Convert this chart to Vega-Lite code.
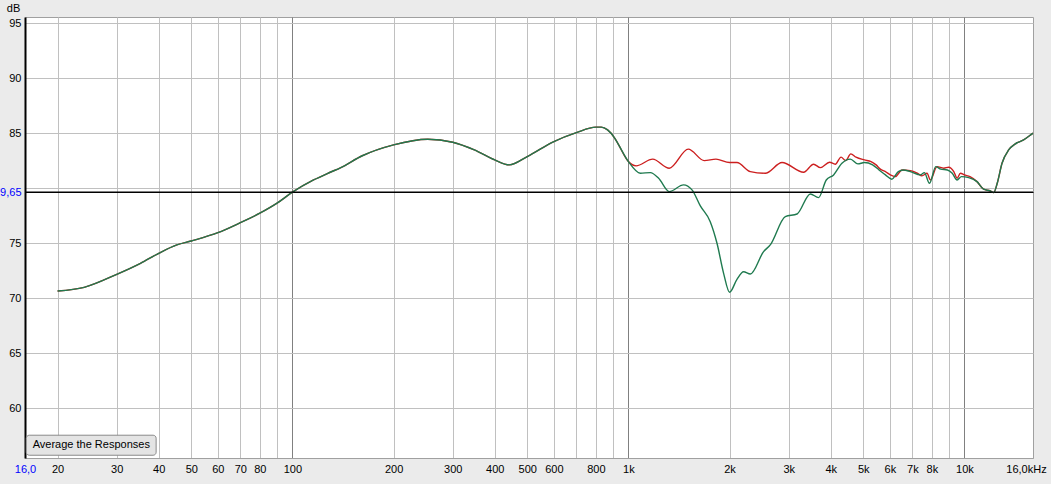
{
  "$schema": "https://vega.github.io/schema/vega-lite/v6.json",
  "width": 1008,
  "height": 441,
  "autosize": {"type": "none"},
  "padding": {"left": 25, "top": 17, "right": 18, "bottom": 26},
  "background": "#ebebeb",
  "config": {
    "view": {"fill": "white", "stroke": "#a0a0a0", "strokeWidth": 1},
    "font": "Liberation Sans",
    "axis": {"labelFont": "Liberation Sans", "labelFontSize": 11, "labelColor": "black"}
  },
  "data": {
    "values": [
      {"f": 20, "db": 70.66, "s": "B"}, {"f": 24, "db": 71.0, "s": "B"}, {"f": 30, "db": 72.18, "s": "B"},
      {"f": 35.3, "db": 73.18, "s": "B"}, {"f": 40, "db": 74.09, "s": "B"}, {"f": 45.3, "db": 74.85, "s": "B"},
      {"f": 50, "db": 75.21, "s": "B"}, {"f": 60, "db": 75.96, "s": "B"}, {"f": 70, "db": 76.87, "s": "B"},
      {"f": 80, "db": 77.73, "s": "B"}, {"f": 90, "db": 78.64, "s": "B"}, {"f": 100, "db": 79.64, "s": "B"},
      {"f": 115.6, "db": 80.75, "s": "B"}, {"f": 129.6, "db": 81.45, "s": "B"}, {"f": 138.9, "db": 81.85, "s": "B"},
      {"f": 161.4, "db": 82.95, "s": "B"}, {"f": 200, "db": 83.94, "s": "B"}, {"f": 252.8, "db": 84.45, "s": "B"},
      {"f": 300, "db": 84.18, "s": "B"}, {"f": 347.9, "db": 83.48, "s": "B"}, {"f": 400, "db": 82.57, "s": "B"},
      {"f": 442, "db": 82.12, "s": "B"}, {"f": 500, "db": 82.87, "s": "B"}, {"f": 600, "db": 84.24, "s": "B"},
      {"f": 700, "db": 85.05, "s": "B"}, {"f": 800, "db": 85.55, "s": "B"}, {"f": 830, "db": 85.55, "s": "B"},
      {"f": 867, "db": 85.3, "s": "B"}, {"f": 908, "db": 84.6, "s": "B"}, {"f": 929, "db": 84.1, "s": "B"},
      {"f": 1000, "db": 82.42, "s": "B"},
      {"f": 1054, "db": 82.03, "s": "R"}, {"f": 1181, "db": 82.64, "s": "R"}, {"f": 1323, "db": 81.82, "s": "R"},
      {"f": 1507, "db": 83.55, "s": "R"}, {"f": 1682, "db": 82.51, "s": "R"}, {"f": 1822, "db": 82.64, "s": "R"},
      {"f": 2000, "db": 82.33, "s": "R"}, {"f": 2104, "db": 82.33, "s": "R"}, {"f": 2306, "db": 81.51, "s": "R"},
      {"f": 2555, "db": 81.36, "s": "R"}, {"f": 2866, "db": 82.33, "s": "R"}, {"f": 3322, "db": 81.45, "s": "R"},
      {"f": 3557, "db": 82.18, "s": "R"}, {"f": 3725, "db": 81.87, "s": "R"}, {"f": 3968, "db": 82.36, "s": "R"},
      {"f": 4128, "db": 82.18, "s": "R"}, {"f": 4293, "db": 82.82, "s": "R"}, {"f": 4432, "db": 82.51, "s": "R"},
      {"f": 4590, "db": 83.12, "s": "R"}, {"f": 4757, "db": 82.82, "s": "R"}, {"f": 5037, "db": 82.57, "s": "R"},
      {"f": 5273, "db": 82.42, "s": "R"}, {"f": 5459, "db": 82.12, "s": "R"}, {"f": 5620, "db": 81.73, "s": "R"},
      {"f": 5821, "db": 81.51, "s": "R"}, {"f": 6016, "db": 81.21, "s": "R"}, {"f": 6227, "db": 81.05, "s": "R"},
      {"f": 6520, "db": 81.66, "s": "R"}, {"f": 6901, "db": 81.6, "s": "R"}, {"f": 7240, "db": 81.36, "s": "R"},
      {"f": 7476, "db": 81.12, "s": "R"}, {"f": 7741, "db": 81.36, "s": "R"}, {"f": 7920, "db": 80.75, "s": "R"},
      {"f": 8288, "db": 81.96, "s": "R"}, {"f": 8680, "db": 81.82, "s": "R"}, {"f": 8980, "db": 81.91, "s": "R"},
      {"f": 9298, "db": 81.51, "s": "R"}, {"f": 9510, "db": 80.91, "s": "R"}, {"f": 9730, "db": 81.36, "s": "R"},
      {"f": 10000, "db": 81.21, "s": "R"}, {"f": 10390, "db": 81.05, "s": "R"},
      {"f": 1085, "db": 81.36, "s": "G"}, {"f": 1162, "db": 81.42, "s": "G"}, {"f": 1230, "db": 80.91, "s": "G"},
      {"f": 1323, "db": 79.69, "s": "G"}, {"f": 1459, "db": 80.3, "s": "G"}, {"f": 1546, "db": 79.85, "s": "G"},
      {"f": 1637, "db": 78.39, "s": "G"}, {"f": 1752, "db": 76.96, "s": "G"}, {"f": 1835, "db": 75.0, "s": "G"},
      {"f": 1920, "db": 72.27, "s": "G"}, {"f": 2000, "db": 70.55, "s": "G"}, {"f": 2104, "db": 71.73, "s": "G"},
      {"f": 2201, "db": 72.42, "s": "G"}, {"f": 2306, "db": 72.21, "s": "G"}, {"f": 2525, "db": 74.24, "s": "G"},
      {"f": 2643, "db": 74.85, "s": "G"}, {"f": 2931, "db": 77.42, "s": "G"}, {"f": 3176, "db": 77.66, "s": "G"},
      {"f": 3479, "db": 79.48, "s": "G"}, {"f": 3681, "db": 79.15, "s": "G"}, {"f": 3880, "db": 80.75, "s": "G"},
      {"f": 4080, "db": 81.21, "s": "G"}, {"f": 4320, "db": 82.27, "s": "G"}, {"f": 4575, "db": 82.64, "s": "G"},
      {"f": 4820, "db": 82.21, "s": "G"}, {"f": 5037, "db": 82.33, "s": "G"}, {"f": 5330, "db": 82.12, "s": "G"},
      {"f": 5570, "db": 81.66, "s": "G"}, {"f": 5821, "db": 81.21, "s": "G"}, {"f": 6080, "db": 80.82, "s": "G"},
      {"f": 6360, "db": 81.51, "s": "G"}, {"f": 6580, "db": 81.66, "s": "G"}, {"f": 6901, "db": 81.51, "s": "G"},
      {"f": 7400, "db": 81.21, "s": "G"}, {"f": 7600, "db": 81.42, "s": "G"}, {"f": 7870, "db": 80.45, "s": "G"},
      {"f": 8220, "db": 81.96, "s": "G"}, {"f": 8500, "db": 81.73, "s": "G"}, {"f": 8900, "db": 81.66, "s": "G"},
      {"f": 9200, "db": 81.36, "s": "G"}, {"f": 9510, "db": 80.75, "s": "G"}, {"f": 9800, "db": 81.05, "s": "G"},
      {"f": 10300, "db": 80.96, "s": "G"},
      {"f": 10900, "db": 80.6, "s": "B"}, {"f": 11400, "db": 79.91, "s": "B"}, {"f": 11940, "db": 79.75, "s": "B"},
      {"f": 12220, "db": 79.6, "s": "B"}, {"f": 12520, "db": 80.45, "s": "B"}, {"f": 12940, "db": 82.27, "s": "B"},
      {"f": 13540, "db": 83.48, "s": "B"}, {"f": 14180, "db": 84.03, "s": "B"}, {"f": 15000, "db": 84.39, "s": "B"},
      {"f": 15900, "db": 84.94, "s": "B"}, {"f": 16000, "db": 85.0, "s": "B"}
    ]
  },
  "layer": [
    {
      "transform": [{"filter": "datum.s != 'G'"}],
      "mark": {"type": "line", "interpolate": "monotone", "color": "#cc1f1f", "strokeWidth": 1.4},
      "encoding": {
        "x": {
          "field": "f", "type": "quantitative",
          "scale": {"type": "log", "domain": [16, 16000], "nice": false},
          "axis": {
            "title": null,
            "values": [16, 20, 30, 40, 50, 60, 70, 80, 90, 100, 200, 300, 400, 500, 600, 700, 800, 900, 1000, 2000, 3000, 4000, 5000, 6000, 7000, 8000, 9000, 10000, 16000],
            "labelExpr": "indexof([90, 700, 900, 9000], datum.value) >= 0 ? '' : datum.value == 16 ? '16,0' : datum.value == 16000 ? '16,0kHz' : datum.value >= 1000 ? (datum.value / 1000) + 'k' : '' + datum.value",
            "labelColor": {"condition": {"test": "datum.value == 16", "value": "#0000ff"}, "value": "black"},
            "labelOffset": {"condition": {"test": "datum.value == 16000", "value": -7}, "value": 0},
            "gridColor": {"condition": {"test": "datum.value == 100 || datum.value == 1000 || datum.value == 10000", "value": "#808080"}, "value": "#c0c0c0"},
            "gridOpacity": {"condition": {"test": "datum.value == 16 || datum.value == 16000", "value": 0}, "value": 1},
            "grid": true,
            "ticks": false,
            "domainColor": "#a0a0a0",
            "labelPadding": 5,
            "labelFlush": false,
            "labelOverlap": false,
            "labelBound": false
          }
        },
        "y": {
          "field": "db", "type": "quantitative",
          "scale": {"domain": [55.5, 95.55], "nice": false, "zero": false},
          "axis": {
            "title": "dB",
            "titleAngle": 0,
            "titleX": -12,
            "titleY": -9,
            "titleAlign": "center",
            "titleBaseline": "middle",
            "titleFont": "Liberation Sans",
            "titleFontSize": 11,
            "titleFontWeight": "normal",
            "values": [60, 65, 70, 75, 79.65, 80, 85, 90, 95],
            "labelExpr": "datum.value == 80 ? '' : datum.value == 79.65 ? '79,65' : '' + datum.value",
            "labelColor": {"condition": {"test": "datum.value == 79.65", "value": "#0000ff"}, "value": "black"},
            "gridColor": {"condition": {"test": "datum.value == 79.65", "value": "black"}, "value": "#c0c0c0"},
            "grid": true,
            "ticks": false,
            "domainColor": "black",
            "domainWidth": 2,
            "labelPadding": 4,
            "labelOverlap": false,
            "labelBound": false
          }
        }
      }
    },
    {
      "transform": [{"filter": "datum.s != 'R'"}],
      "mark": {"type": "line", "interpolate": "monotone", "color": "#1f7a4f", "strokeWidth": 1.4},
      "encoding": {
        "x": {"field": "f", "type": "quantitative"},
        "y": {"field": "db", "type": "quantitative"}
      }
    },
    {
      "data": {"values": [{"db": 79.65}]},
      "mark": {"type": "rule", "color": "black", "strokeWidth": 1.2},
      "encoding": {"y": {"field": "db", "type": "quantitative"}}
    },
    {
      "data": {"values": [{"f": 16.14, "f2": 39.3, "db": 57.57, "db2": 55.75}]},
      "mark": {"type": "rect", "fill": "#e4e4e4", "stroke": "#8a8a8a", "strokeWidth": 1, "cornerRadius": 3},
      "encoding": {
        "x": {"field": "f", "type": "quantitative"},
        "x2": {"field": "f2"},
        "y": {"field": "db", "type": "quantitative"},
        "y2": {"field": "db2"}
      }
    },
    {
      "data": {"values": [{"f": 25.2, "db": 56.66, "t": "Average the Responses"}]},
      "mark": {"type": "text", "font": "Liberation Sans", "fontSize": 11, "color": "black", "align": "center", "baseline": "middle"},
      "encoding": {
        "x": {"field": "f", "type": "quantitative"},
        "y": {"field": "db", "type": "quantitative"},
        "text": {"field": "t"}
      }
    }
  ]
}
